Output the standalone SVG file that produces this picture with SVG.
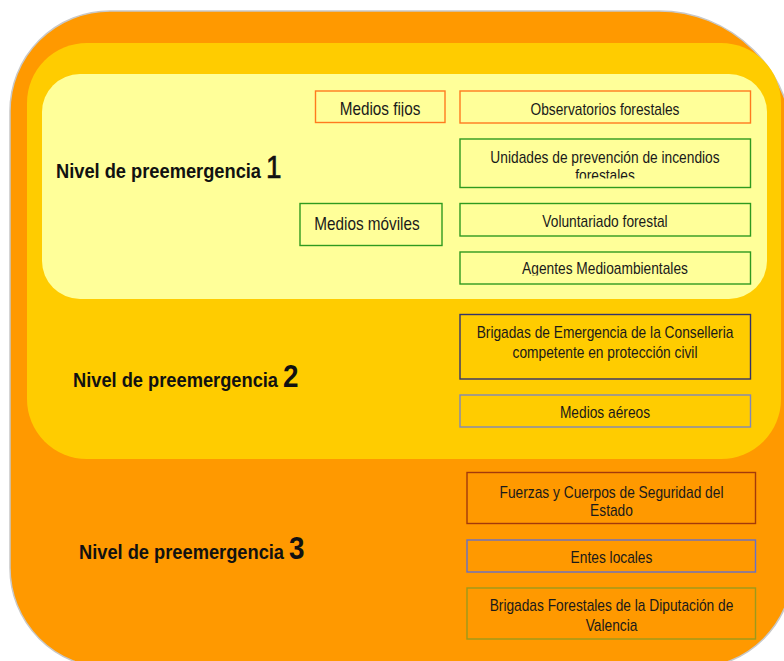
<svg xmlns="http://www.w3.org/2000/svg" width="784" height="661" viewBox="0 0 784 661">
<style>
  .box { fill: none; stroke-width: 1.4; }
  .t { font-family: "Liberation Sans", Arial, sans-serif; font-size: 16px; fill: #1a1a1a; text-anchor: middle; }
  .tb { font-family: "Liberation Sans", Arial, sans-serif; font-size: 18px; fill: #1a1a1a; text-anchor: middle; }
  .lbl { font-family: "Liberation Sans", Arial, sans-serif; font-size: 21px; font-weight: bold; fill: #111; }
  .num { font-size: 32px; }
  .or { stroke: #FF7A1E; }
  .gr { stroke: #2F9A1F; }
</style>
<defs>
  <clipPath id="cFijos"><rect x="316" y="92" width="128" height="24.5"/></clipPath>
  <clipPath id="cUnid"><rect x="461" y="140" width="288" height="38.5"/></clipPath>
  <clipPath id="cAgen"><rect x="461" y="253" width="288" height="22.5"/></clipPath>
</defs>

<g id="level3-bg">
  <path d="M110,11 H659 A134,134 0 0 1 793,145 V568 A100,100 0 0 1 693,668 H110 A100,100 0 0 1 10,568 V111 A100,100 0 0 1 110,11 Z" fill="#FF9900" stroke="#C8C8C8" stroke-width="1.5"/>
</g>
<g id="level2-bg">
  <rect x="27" y="43" width="754" height="416" rx="60" ry="60" fill="#FFCC00"/>
</g>
<g id="level1-bg">
  <rect x="42" y="74" width="725" height="225" rx="38" ry="38" fill="#FFFF99"/>
</g>

<g id="label1">
  <text class="lbl" transform="translate(56 0) scale(0.87 1)" x="0" y="178">Nivel de preemergencia <tspan class="num" font-weight="normal" stroke="#111" stroke-width="0.7">1</tspan></text>
</g>
<g id="label2">
  <text class="lbl" transform="translate(73 0) scale(0.87 1)" x="0" y="387">Nivel de preemergencia <tspan class="num">2</tspan></text>
</g>
<g id="label3">
  <text class="lbl" transform="translate(79 0) scale(0.87 1)" x="0" y="559">Nivel de preemergencia <tspan class="num">3</tspan></text>
</g>

<g id="medios-fijos">
  <rect class="box or" x="315.5" y="91" width="129.5" height="31.5"/>
  <g clip-path="url(#cFijos)">
    <text class="tb" transform="translate(380 0) scale(0.85 1)" x="0" y="115.5">Medios fijos</text>
  </g>
</g>
<g id="observatorios">
  <rect class="box or" x="460" y="91" width="290.5" height="32"/>
  <text class="t" transform="translate(605 0) scale(0.86 1)" x="0" y="115">Observatorios forestales</text>
</g>
<g id="unidades">
  <rect class="box gr" x="460" y="139" width="290.5" height="48.5"/>
  <g clip-path="url(#cUnid)">
    <text class="t" transform="translate(605 0) scale(0.86 1)" x="0" y="163">Unidades de prevención de incendios</text>
    <text class="t" transform="translate(605 0) scale(0.86 1)" x="0" y="181.5">forestales</text>
  </g>
</g>
<g id="medios-moviles">
  <rect class="box gr" x="300" y="203.5" width="142" height="42"/>
  <text class="tb" transform="translate(367 0) scale(0.85 1)" x="0" y="230">Medios móviles</text>
</g>
<g id="voluntariado">
  <rect class="box gr" x="460" y="203.5" width="290.5" height="32.5"/>
  <text class="t" transform="translate(605 0) scale(0.86 1)" x="0" y="227">Voluntariado forestal</text>
</g>
<g id="agentes">
  <rect class="box gr" x="460" y="252" width="290.5" height="32"/>
  <g clip-path="url(#cAgen)">
    <text class="t" transform="translate(605 0) scale(0.86 1)" x="0" y="274.5">Agentes Medioambientales</text>
  </g>
</g>
<g id="brigadas-emergencia">
  <rect class="box" stroke="#33336B" x="460" y="314.5" width="290.5" height="64.5"/>
  <text class="t" transform="translate(605 0) scale(0.86 1)" x="0" y="338.5">Brigadas de Emergencia de la Conselleria</text>
  <text class="t" transform="translate(605 0) scale(0.86 1)" x="0" y="358.5">competente en protección civil</text>
</g>
<g id="medios-aereos">
  <rect class="box" stroke="#8088B8" x="460" y="395" width="290.5" height="32"/>
  <text class="t" transform="translate(605 0) scale(0.86 1)" x="0" y="418.5">Medios aéreos</text>
</g>
<g id="fuerzas">
  <rect class="box" stroke="#A33A0A" x="467" y="472.5" width="288.5" height="51"/>
  <text class="t" transform="translate(611.5 0) scale(0.86 1)" x="0" y="498">Fuerzas y Cuerpos de Seguridad del</text>
  <text class="t" transform="translate(611.5 0) scale(0.86 1)" x="0" y="516">Estado</text>
</g>
<g id="entes-locales">
  <rect class="box" stroke="#6670C8" x="467" y="540" width="288.5" height="32"/>
  <text class="t" transform="translate(611.5 0) scale(0.86 1)" x="0" y="563.5">Entes locales</text>
</g>
<g id="brigadas-forestales">
  <rect class="box" stroke="#9C9A1A" x="467" y="588" width="288.5" height="51"/>
  <text class="t" transform="translate(611.5 0) scale(0.86 1)" x="0" y="611.5">Brigadas Forestales de la Diputación de</text>
  <text class="t" transform="translate(611.5 0) scale(0.86 1)" x="0" y="631">Valencia</text>
</g>
</svg>
